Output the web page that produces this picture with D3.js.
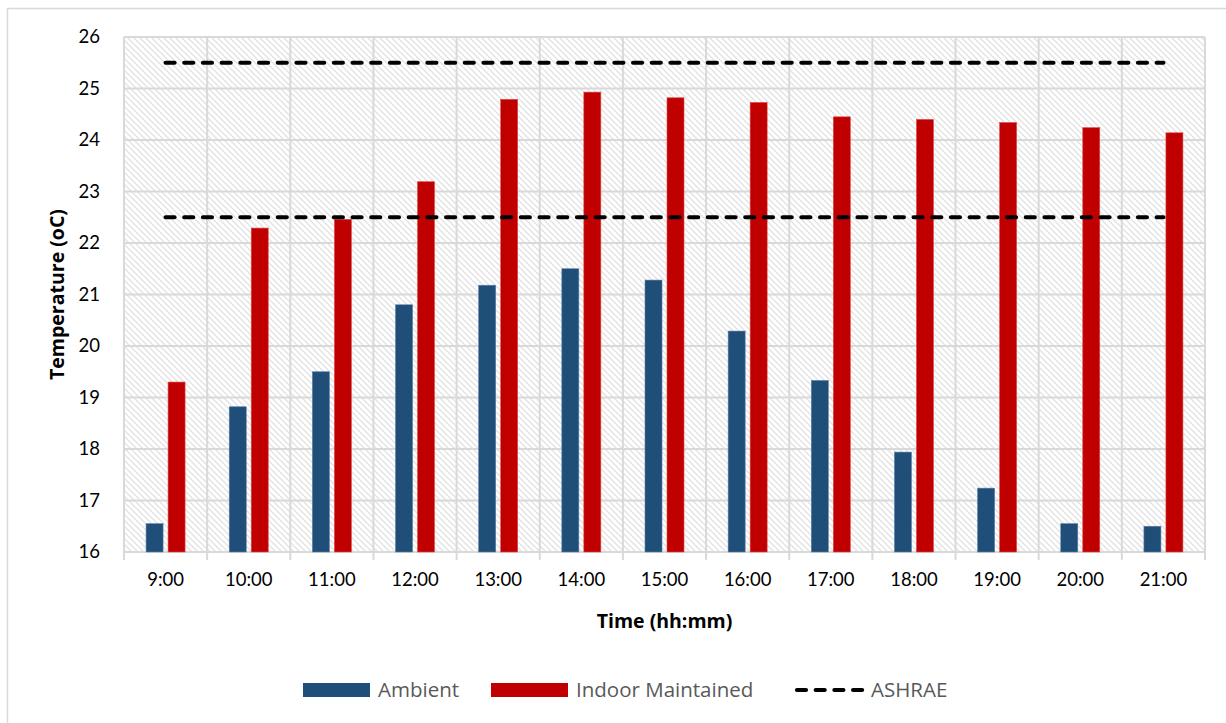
<!DOCTYPE html>
<html>
<head>
<meta charset="utf-8">
<script src="https://cdn.jsdelivr.net/npm/d3@7"></script>
<style>
  html, body { margin: 0; padding: 0; background: #fff; }
  svg { display: block; font-family: Lato, "Open Sans", sans-serif; }
</style>
</head>
<body>
<svg id="chart" width="1226" height="723"></svg>
<script>
const categories = ["9:00","10:00","11:00","12:00","13:00","14:00","15:00","16:00","17:00","18:00","19:00","20:00","21:00"];
const ambient = [16.55, 18.82, 19.5, 20.8, 21.18, 21.5, 21.28, 20.29, 19.33, 17.94, 17.24, 16.55, 16.5];
const indoor = [19.3, 22.29, 22.46, 23.19, 24.79, 24.93, 24.82, 24.73, 24.45, 24.4, 24.34, 24.24, 24.14];
const ashraeUpper = 25.5;
const ashraeLower = 22.5;
const yTicks = [16,17,18,19,20,21,22,23,24,25,26];
const seriesNames = ["Ambient", "Indoor Maintained", "ASHRAE"];
const colors = { "Ambient": "#1F4E79", "Indoor Maintained": "#C00000", "ASHRAE": "#000000" };

const svg = d3.select("#chart");
const m = { left: 124, right: 1205, top: 37, bottom: 552 };

// outer chart frame
svg.append("rect").attr("x", 7.5).attr("y", 8.5).attr("width", 1240).attr("height", 740)
  .attr("fill", "#fff").attr("stroke", "#d9d9d9").attr("stroke-width", 1.5);

const defs = svg.append("defs");
const pat = defs.append("pattern").attr("id", "hatch").attr("patternUnits", "userSpaceOnUse")
  .attr("width", 6).attr("height", 6);
pat.append("rect").attr("width", 6).attr("height", 6).attr("fill", "#fff");
pat.append("path").attr("d", "M-1,-1 L7,7 M-4,2 L1,7 M2,-4 L7,1")
  .attr("stroke", "#e2e2e2").attr("stroke-width", 1.3);

const x = d3.scaleBand().domain(categories).range([m.left, m.right]).padding(0);
const y = d3.scaleLinear().domain([16, 26]).range([m.bottom, m.top]);
const xs = d3.scaleBand().domain(["Ambient", "Indoor Maintained"]).range([-19.5, 19.5]).paddingInner(0.2273).paddingOuter(0);

// plot background
svg.append("rect").attr("x", m.left).attr("y", m.top).attr("width", m.right - m.left)
  .attr("height", m.bottom - m.top).attr("fill", "url(#hatch)");

// horizontal gridlines
svg.append("g").selectAll("line").data(yTicks).join("line")
  .attr("x1", m.left).attr("x2", m.right)
  .attr("y1", d => y(d)).attr("y2", d => y(d))
  .attr("stroke", "#d9d9d9").attr("stroke-width", 2);

// vertical gridlines (category boundaries)
const bounds = categories.map(c => x(c)).concat([x(categories[categories.length - 1]) + x.bandwidth()]);
svg.append("g").selectAll("line").data(bounds).join("line")
  .attr("x1", d => d).attr("x2", d => d)
  .attr("y1", m.top).attr("y2", (d, i) => m.bottom + 8)
  .attr("stroke", "#d9d9d9").attr("stroke-width", 2);

// bars
const rows = categories.map((c, i) => ({ c, vals: [["Ambient", ambient[i]], ["Indoor Maintained", indoor[i]]] }));
const g = svg.append("g").selectAll("g").data(rows).join("g")
  .attr("transform", d => `translate(${x(d.c) + x.bandwidth() / 2},0)`);
g.selectAll("rect").data(d => d.vals).join("rect")
  .attr("x", d => xs(d[0])).attr("width", xs.bandwidth())
  .attr("y", d => y(d[1])).attr("height", d => y(16) - y(d[1]))
  .attr("fill", d => colors[d[0]])
  .attr("stroke", d => d[0] === "Ambient" ? "#5b7fa3" : "#e04a4a").attr("stroke-width", 0.6);

// ASHRAE lines
const xStart = x(categories[0]) + x.bandwidth() / 2;
const xEnd = x(categories[categories.length - 1]) + x.bandwidth() / 2;
[ashraeUpper, ashraeLower].forEach(v => {
  svg.append("line").attr("x1", xStart).attr("x2", xEnd).attr("y1", y(v)).attr("y2", y(v))
    .attr("stroke", "#000").attr("stroke-width", 4.2).attr("stroke-linecap", "round")
    .attr("stroke-dasharray", "9 9.7");
});

// y axis labels
svg.append("g").selectAll("text").data(yTicks).join("text")
  .attr("x", 100).attr("y", d => y(d)).attr("dy", "0.35em")
  .attr("text-anchor", "end").attr("font-size", 18.5).attr("fill", "#000").text(d => d);

// x axis labels
svg.append("g").selectAll("text").data(categories).join("text")
  .attr("x", d => x(d) + x.bandwidth() / 2).attr("y", 580).attr("dy", "0.35em")
  .attr("text-anchor", "middle").attr("font-size", 18.5).attr("fill", "#000").text(d => d);

// axis titles
svg.append("text").attr("x", (m.left + m.right) / 2).attr("y", 621).attr("dy", "0.35em")
  .attr("text-anchor", "middle").attr("font-family", "'Open Sans', sans-serif")
  .attr("font-size", 19.5).attr("font-weight", "bold").text("Time (hh:mm)");
svg.append("text").attr("transform", `translate(57,${(m.top + m.bottom) / 2}) rotate(-90)`)
  .attr("dy", "0.35em").attr("text-anchor", "middle").attr("font-family", "'Open Sans', sans-serif")
  .attr("font-size", 19.5).attr("font-weight", "bold")
  .text("Temperature (oC)");

// legend
const leg = svg.append("g").attr("font-size", 20.5).attr("font-family", "'Open Sans', sans-serif").attr("fill", "#595959");
leg.append("rect").attr("x", 303).attr("y", 683).attr("width", 67).attr("height", 14).attr("fill", colors["Ambient"]);
leg.append("text").attr("x", 378).attr("y", 690).attr("dy", "0.35em").text(seriesNames[0]);
leg.append("rect").attr("x", 491).attr("y", 683).attr("width", 77).attr("height", 14).attr("fill", colors["Indoor Maintained"]);
leg.append("text").attr("x", 576).attr("y", 690).attr("dy", "0.35em").text(seriesNames[1]);
leg.append("line").attr("x1", 797).attr("x2", 863).attr("y1", 690).attr("y2", 690)
  .attr("stroke", "#000").attr("stroke-width", 4.2).attr("stroke-linecap", "round").attr("stroke-dasharray", "9 9.7");
leg.append("text").attr("x", 871).attr("y", 690).attr("dy", "0.35em").text(seriesNames[2]);
</script>
</body>
</html>
